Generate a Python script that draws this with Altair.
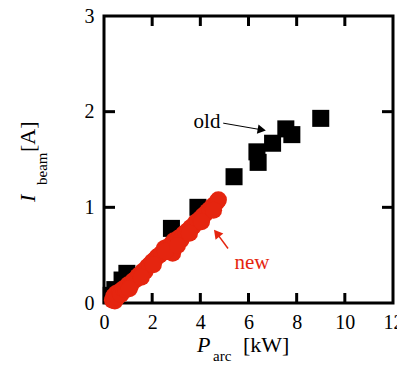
import altair as alt
import pandas as pd

# ---- data ----
old_p = [0.3, 0.45, 0.75, 0.95, 2.8, 3.9, 5.4, 6.35, 6.4, 7.0, 7.55, 7.8, 9.0]
old_i = [0.08, 0.14, 0.24, 0.31, 0.78, 1.0, 1.32, 1.58, 1.47, 1.67, 1.82, 1.76, 1.93]

new_p = [0.35, 0.40, 0.45, 0.50, 0.55, 0.65, 0.70, 0.80, 0.90, 1.00, 1.10, 1.20, 1.30,
         1.40, 1.50, 1.60, 1.70, 1.80, 1.90, 2.00, 2.10, 2.20, 2.30, 2.40, 2.50, 2.60,
         2.70, 2.80, 2.85, 2.90, 3.00, 3.10, 3.20, 3.30, 3.40, 3.50, 3.60, 3.70, 3.80,
         3.90, 4.00, 4.10, 4.20, 4.30, 4.40, 4.50, 4.60, 4.70, 4.75,
         1.05, 1.55, 2.05, 2.55, 3.05, 3.55, 4.05, 4.55]
new_i = [0.03, 0.07, 0.02, 0.10, 0.06, 0.12, 0.09, 0.15, 0.14, 0.19, 0.18, 0.23, 0.24,
         0.28, 0.30, 0.33, 0.33, 0.38, 0.40, 0.43, 0.45, 0.48, 0.50, 0.52, 0.57, 0.58,
         0.55, 0.62, 0.52, 0.65, 0.62, 0.68, 0.66, 0.72, 0.74, 0.76, 0.79, 0.80, 0.84,
         0.86, 0.88, 0.91, 0.93, 0.96, 0.98, 1.01, 1.03, 1.06, 1.08,
         0.15, 0.27, 0.40, 0.54, 0.60, 0.73, 0.85, 0.97]

x_ticks = [0, 2, 4, 6, 8, 10, 12]
y_ticks = [0, 1, 2, 3]

# annotation arrows (data units)
arrow_old = dict(x=4.95, y=1.88, x2=6.55, y2=1.81)
arrow_new = dict(x=5.15, y=0.57, x2=4.68, y2=0.73)

RED = "#e5250f"
FONT = "Liberation Serif"
W, H = 289, 287

xs = alt.Scale(domain=[0, 12], nice=False, zero=False)
ys = alt.Scale(domain=[0, 3], nice=False, zero=False)

df_old = pd.DataFrame({"P": old_p, "I": old_i})
df_new = pd.DataFrame({"P": new_p, "I": new_i})

axis_x = alt.Axis(values=x_ticks, domain=False, ticks=False, grid=False, labelFont=FONT,
                  labelFontSize=20, labelColor="black", labelPadding=9, title=None,
                  labelFlush=False, format="d")
axis_y = alt.Axis(values=y_ticks, domain=False, ticks=False, grid=False, labelFont=FONT,
                  labelFontSize=20, labelColor="black", labelPadding=10, title=None,
                  format="d")


def X(field):
    return alt.X(field, type="quantitative", scale=xs, axis=axis_x)


def Y(field):
    return alt.Y(field, type="quantitative", scale=ys, axis=axis_y)


old_layer = alt.Chart(df_old).mark_square(size=290, color="black", opacity=1).encode(
    x=X("P"), y=Y("I"))
new_layer = alt.Chart(df_new).mark_circle(size=290, color=RED, opacity=1).encode(
    x=X("P"), y=Y("I"))

# inward ticks
df_xt = pd.DataFrame({"t": x_ticks[1:-1]})
df_yt = pd.DataFrame({"t": y_ticks[1:-1]})
tick_style = dict(color="black", strokeWidth=3)
xb = alt.Chart(df_xt).mark_rule(**tick_style).encode(
    x=X("t"), y=alt.value(H - 10), y2=alt.value(H))
xt = alt.Chart(df_xt).mark_rule(**tick_style).encode(
    x=X("t"), y=alt.value(0), y2=alt.value(10))
yl = alt.Chart(df_yt).mark_rule(**tick_style).encode(
    y=Y("t"), x=alt.value(0), x2=alt.value(11))
yr = alt.Chart(df_yt).mark_rule(**tick_style).encode(
    y=Y("t"), x=alt.value(W - 11), x2=alt.value(W))

# annotations
df_ao = pd.DataFrame([arrow_old])
df_an = pd.DataFrame([arrow_new])
ao_line = alt.Chart(df_ao).mark_rule(color="black", strokeWidth=1).encode(
    x=X("x"), y=Y("y"), x2="x2:Q", y2="y2:Q")
ao_head = alt.Chart(df_ao).mark_point(shape="triangle-right", filled=True, size=90,
                                      color="black", opacity=1, angle=10).encode(
    x=X("x2"), y=Y("y2"))
an_line = alt.Chart(df_an).mark_rule(color=RED, strokeWidth=1.5).encode(
    x=X("x"), y=Y("y"), x2="x2:Q", y2="y2:Q")
an_head = alt.Chart(df_an).mark_point(shape="triangle-right", filled=True, size=100,
                                      color=RED, opacity=1, angle=231).encode(
    x=X("x2"), y=Y("y2"))

one = pd.DataFrame({"a": [0]})


def txt(text, x, y, size=22, style="normal", color="black", angle=0, align="left",
        baseline="alphabetic"):
    return alt.Chart(one).mark_text(font=FONT, fontSize=size, fontStyle=style, color=color,
                                    angle=angle, align=align, baseline=baseline).encode(
        x=alt.value(x), y=alt.value(y), text=alt.value(text))


labels = [
    txt("old", 103, 106, size=21, align="center", baseline="middle"),
    txt("new", 148, 247, size=21, color=RED, align="center", baseline="middle"),
    # x title
    txt("P", 93, 336, style="italic"),
    txt("arc", 109, 345, size=15),
    txt("[kW]", 139, 336),
    # y title (rotated)
    txt("I", -69, 186, style="italic", angle=270),
    txt("beam", -57, 169, size=15, angle=270),
    txt("[A]", -69, 136, angle=270),
]

chart = alt.layer(old_layer, new_layer, xb, xt, yl, yr, ao_line, ao_head, an_line, an_head,
                  *labels).properties(
    width=W, height=H,
    autosize=alt.AutoSizeParams(type="none"),
    padding={"left": 96, "top": 8, "right": 4, "bottom": 61},
).configure_view(stroke="black", strokeWidth=3)

chart.save("out.html", embed_options={"renderer": "svg", "actions": False})
